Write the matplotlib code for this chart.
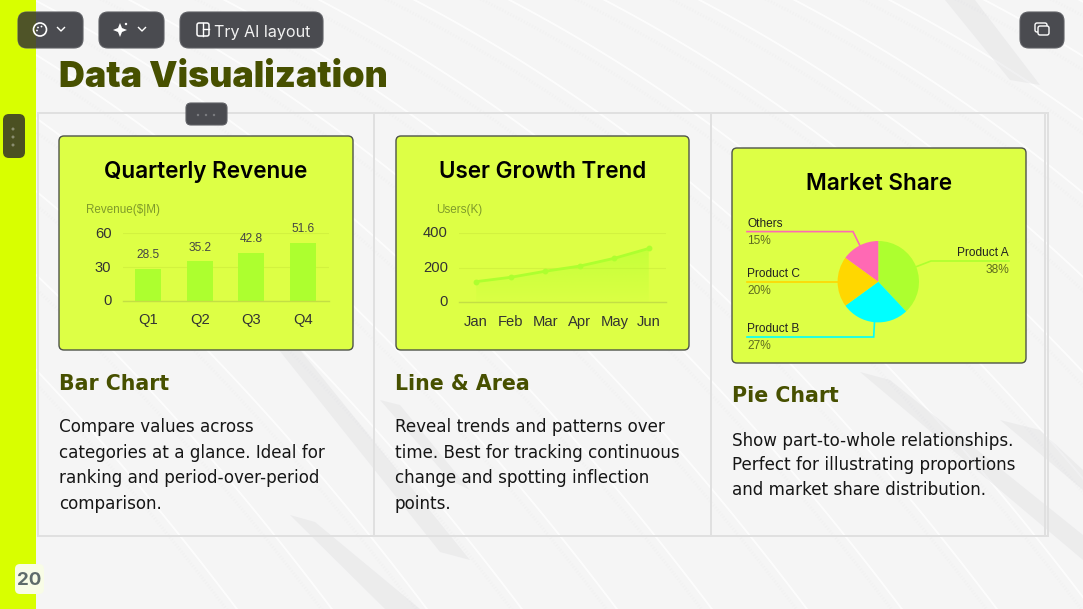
import numpy as np
import matplotlib
matplotlib.use("Agg")
import matplotlib.pyplot as plt
from matplotlib.patches import FancyBboxPatch, Rectangle, Circle, Polygon
from matplotlib.transforms import ScaledTranslation

W, H = 1083, 609
quarters = ["Q1", "Q2", "Q3", "Q4"]
revenue = [28.5, 35.2, 42.8, 51.6]
months = ["Jan", "Feb", "Mar", "Apr", "May", "Jun"]
users = [120, 145, 180, 210, 255, 312]
products = ["Product A", "Product B", "Product C", "Others"]
shares = [38, 27, 20, 15]
pie_colors = ["#ADFF2F", "#00FFFF", "#FFD700", "#FF69B4"]

LIME, CARD, OLIVE, BTN = "#D8FF00", "#DDFF45", "#475000", "#4A4B50"
HEAD = "Inter"
BODY = "DejaVu Sans"
ARIAL = "Liberation Sans"

fig = plt.figure(figsize=(W / 100, H / 100), dpi=100, facecolor="#F5F5F5")
bg = fig.add_axes([0, 0, 1, 1], zorder=0)
bg.set_xlim(0, W); bg.set_ylim(H, 0); bg.axis("off")
top = fig.add_axes([0, 0, 1, 1], zorder=5)
top.set_xlim(0, W); top.set_ylim(H, 0); top.axis("off"); top.patch.set_alpha(0)


def px_axes(l, t, r, b, z=2):
    a = fig.add_axes([l / W, 1 - b / H, (r - l) / W, (b - t) / H], zorder=z)
    a.patch.set_alpha(0)
    return a


def rbox(ax, l, t, r, b, rad, fc, ec="none", lw=0, z=2, alpha=None):
    p = FancyBboxPatch((l + rad, t + rad), r - l - 2 * rad, b - t - 2 * rad,
                       boxstyle=f"round,pad={rad}", fc=fc, ec=ec, lw=lw, zorder=z, alpha=alpha)
    ax.add_patch(p)
    return p


# background texture: sweeping white bands and grey facade streaks
for x0 in np.arange(-500, 1200, 95):
    xs = np.linspace(x0, x0 + 760, 80)
    t = (xs - x0) / 760
    ys = -30 + 670 * (0.55 * t + 0.45 * t ** 2.2)
    bg.plot(xs, ys, color="white", lw=1.3, alpha=0.8, zorder=1)
    bg.plot(xs, ys + 14, color="#EDEDED", lw=2.2, ls=(0, (0.4, 0.6)), alpha=0.4, zorder=1)
for pts in ([(945, 0), (975, 0), (1040, 85), (1010, 80)],
            [(275, 345), (300, 350), (470, 560), (440, 552)],
            [(860, 372), (890, 380), (1083, 535), (1083, 560)],
            [(290, 515), (315, 522), (420, 609), (385, 609)],
            [(380, 400), (400, 405), (470, 490), (450, 480)],
            [(1000, 420), (1040, 430), (1083, 470), (1083, 490)]):
    bg.add_patch(Polygon(pts, fc="#D9D9DC", ec="none", alpha=0.32, zorder=1))

# side strip
bg.add_patch(Rectangle((0, 0), 36, H, fc=LIME, ec="none", zorder=3))

# table frame
for x in (38, 374, 711, 1045, 1048):
    bg.plot([x, x], [113, 536], color="#E0E0E0", lw=1.4, zorder=3)
for y in (113, 536):
    bg.plot([38, 1048], [y, y], color="#E0E0E0", lw=1.4, zorder=3)

# title
bg.text(59, 87, "Data Visualization", fontsize=25.8, fontweight=900, color=OLIVE,
        family=HEAD, va="baseline", zorder=4)

cards = [(59, 136, 353, 350), (396, 136, 689, 350), (732, 148, 1026, 363)]
card_titles = ["Quarterly Revenue", "User Growth Trend", "Market Share"]
heads = ["Bar Chart", "Line & Area", "Pie Chart"]
bodies = [
    ["Compare values across", "categories at a glance. Ideal for", "ranking and period-over-period", "comparison."],
    ["Reveal trends and patterns over", "time. Best for tracking continuous", "change and spotting inflection", "points."],
    ["Show part-to-whole relationships.", "Perfect for illustrating proportions", "and market share distribution."],
]
head_base = [390, 390, 402]
body_base = [[432, 458, 483, 509], [432, 458, 483, 509], [446, 470, 495]]
text_x = [59, 395, 732]
title_base = [178, 178, 190]
for i, (l, t, r, b) in enumerate(cards):
    rbox(bg, l, t, r, b, 5, CARD, "#4E5348", 1.0, z=4)
    bg.text((l + r) / 2, title_base[i], card_titles[i], fontsize=16.2, fontweight="semibold", family=HEAD,
            color="black", ha="center", va="baseline", zorder=5)
    bg.text(text_x[i], head_base[i], heads[i], fontsize=14.8, fontweight="bold", family=BODY,
            color=OLIVE, va="baseline", zorder=5)
    for line, yb in zip(bodies[i], body_base[i]):
        bg.text(text_x[i], yb, line, fontsize=12.1, family=BODY, color="#161616", va="baseline", zorder=5)


def style(a, n, ticks, dy):
    for s in ("top", "left", "right"):
        a.spines[s].set_visible(False)
    a.spines["bottom"].set_color("#C3DE45")
    a.spines["bottom"].set_linewidth(1)
    a.set_xlim(-0.5, n - 0.5)
    a.set_xticks(range(n))
    a.set_yticks(ticks)
    a.tick_params(length=0, labelsize=10.6, labelcolor="#333333")
    a.tick_params(axis="y", pad=8)
    a.tick_params(axis="x", pad=9)
    off = ScaledTranslation(0, dy / 100, fig.dpi_scale_trans)
    for lab in a.get_yticklabels():
        lab.set_family(ARIAL)
        lab.set_transform(lab.get_transform() + off)
    a.grid(axis="y", color="#D2F23F", lw=0.8)
    a.set_axisbelow(True)


# bar chart
ax1 = px_axes(122.5, 233.3, 328.5, 301)
ax1.bar(range(4), revenue, width=0.5, color="#ADFF2F")
ax1.set_ylim(0, 60)
style(ax1, 4, [0, 30, 60], 1.0)
ax1.set_xticklabels(quarters, family=ARIAL)
for i, v in enumerate(revenue):
    ax1.annotate(f"{v}", (i, v), xytext=(0, 7.5), textcoords="offset points", ha="center",
                 fontsize=8.6, family=ARIAL, color="#444444")
top.text(86, 213, "Revenue($|M)", fontsize=8.4, family=ARIAL, color="#7F9B2A", va="baseline")

# line chart
ax2 = px_axes(459, 233.3, 666, 302.3)
xs = np.arange(6)
ax2.set_ylim(0, 400)
style(ax2, 6, [0, 200, 400], 1.5)
ax2.set_xticklabels(months, family=ARIAL)
ax2.tick_params(axis="x", pad=9)
grad = np.linspace(0.5, 0.05, 64).reshape(-1, 1)
rgba = np.zeros((64, 1, 4))
rgba[..., :3] = matplotlib.colors.to_rgb("#ADFF2F")
rgba[..., 3] = grad
im = ax2.imshow(rgba, extent=(-0.5, 5.5, 0, max(users)), origin="upper", aspect="auto", zorder=1)
fill = ax2.fill_between(xs, users, 0, color="none")
im.set_clip_path(fill.get_paths()[0], transform=ax2.transData)
ax2.set_xlim(-0.5, 5.5); ax2.set_ylim(0, 400)
ax2.plot(xs, users, color="#ADFF2F", lw=2, marker="o", ms=3.2, zorder=3, clip_on=False)
top.text(436, 213, "Users(K)", fontsize=8.4, family=ARIAL, color="#7F9B2A", va="baseline")

# pie chart
cx, cy, R = 878.3, 281.7, 40.7
ax3 = px_axes(cx - R, cy - R, cx + R, cy + R)
ax3.pie(shares, colors=pie_colors, startangle=90, counterclock=False, radius=1, wedgeprops=dict(lw=0))
ax3.set_xlim(-1, 1); ax3.set_ylim(-1, 1)
elbows = [(931, 261), (873.7, 337), None, (853, 231.6)]
ends = [1009, 747, 747, 747]
name_base = [256, 332, 277, 227]
pct_base = [273, 349, 294, 244]
cum = np.cumsum([0] + shares)
for i, name in enumerate(products):
    ang = 2 * np.pi * (cum[i] + shares[i] / 2) / sum(shares)
    ax_, ay_ = cx + R * np.sin(ang), cy - R * np.cos(ang)
    el = elbows[i] or (ax_, ay_)
    top.plot([ax_, el[0], ends[i]], [ay_, el[1], el[1]], color=pie_colors[i], lw=1.2, solid_joinstyle="miter")
    ha = "right" if i == 0 else "left"
    top.text(ends[i], name_base[i], name, fontsize=8.6, family=ARIAL, color="#222222", ha=ha, va="baseline")
    top.text(ends[i], pct_base[i], f"{shares[i]}%", fontsize=8.6, family=ARIAL, color="#5E6B20", ha=ha, va="baseline")

# toolbar chrome
for l, r in ((18, 83), (99, 164), (180, 323), (1020, 1064)):
    rbox(top, l, 12, r, 48, 9, BTN, "#5F6065", 0.8, z=6)
tint = rbox(top, 18, 12, 83, 48, 9, "#4F5428", "none", 0, z=6)
tint.set_clip_path(Rectangle((0, 0), 36, H, transform=top.transData))
rbox(top, 186, 103, 227, 125, 5, BTN, "#5F6065", 0.8, z=6)
rbox(top, 3, 114, 25, 158, 6, "#4B5022", "none", 0, z=6)
for x in (198, 206, 214):
    top.add_patch(Circle((x, 115), 1.2, fc="#7B7C80", ec="none", zorder=7))
for y in (129, 137, 145):
    top.add_patch(Circle((13, y), 1.5, fc="#8A8D70", ec="none", zorder=7))
top.text(214, 36.5, "Try AI layout", fontsize=11.6, family=HEAD, color="#F2F2F2", va="baseline", zorder=7)
# icons
top.add_patch(Circle((40, 29.5), 6.5, fc="none", ec="white", lw=1.2, zorder=7))
for dx, dy in ((-2, -2), (1.5, -3), (-3, 1)):
    top.add_patch(Circle((40 + dx, 29.5 + dy), 0.9, fc="white", ec="none", zorder=7))
for x in (61, 142):
    top.plot([x - 3.5, x, x + 3.5], [27.5, 31, 27.5], color="white", lw=1, zorder=7)
top.add_patch(Polygon([(120, 23), (122, 28), (127, 30), (122, 32), (120, 37), (118, 32), (113, 30), (118, 28)],
                      fc="white", ec="none", zorder=7))
top.add_patch(Circle((126, 24), 1.2, fc="white", ec="none", zorder=7))
rbox(top, 197, 23, 209, 36, 2, "none", "white", 1.1, z=7)
top.plot([203, 203], [23, 36], color="white", lw=1, zorder=7)
top.plot([203, 209], [29, 29], color="white", lw=1, zorder=7)
rbox(top, 1035, 23, 1047, 32, 2, "none", "white", 1.0, z=7)
rbox(top, 1038, 26, 1049, 35, 2, BTN, "white", 1.0, z=7)

# page number
rbox(top, 15, 564, 44, 594, 5, "#F8FCE6", "none", 0, z=6)
top.text(29.5, 585, "20", fontsize=13.5, fontweight="bold", family=HEAD, color="#5E6B6B", ha="center", va="baseline", zorder=7)

fig.savefig("out.png", dpi=100)
